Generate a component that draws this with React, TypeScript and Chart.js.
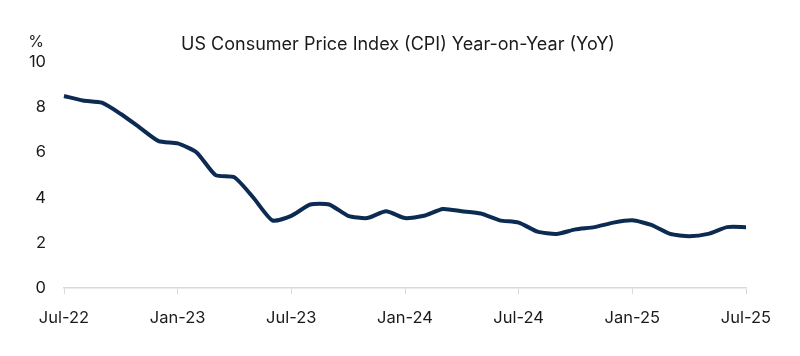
import React, { useEffect, useRef } from "react";
import { Chart, registerables } from "chart.js";

Chart.register(...registerables);

const months = [
  "Jul-22","Aug-22","Sep-22","Oct-22","Nov-22","Dec-22",
  "Jan-23","Feb-23","Mar-23","Apr-23","May-23","Jun-23",
  "Jul-23","Aug-23","Sep-23","Oct-23","Nov-23","Dec-23",
  "Jan-24","Feb-24","Mar-24","Apr-24","May-24","Jun-24",
  "Jul-24","Aug-24","Sep-24","Oct-24","Nov-24","Dec-24",
  "Jan-25","Feb-25","Mar-25","Apr-25","May-25","Jun-25","Jul-25",
];

const cpiYoY = [
  8.5, 8.3, 8.2, 7.7, 7.1, 6.5,
  6.4, 6.0, 5.0, 4.9, 4.0, 3.0,
  3.2, 3.7, 3.7, 3.2, 3.1, 3.4,
  3.1, 3.2, 3.5, 3.4, 3.3, 3.0,
  2.9, 2.5, 2.4, 2.6, 2.7, 2.9,
  3.0, 2.8, 2.4, 2.3, 2.4, 2.7, 2.7,
];

const titleText = "US Consumer Price Index (CPI) Year-on-Year (YoY)";
const unitLabel = "%";
const FONT = "Inter, 'Liberation Sans', sans-serif";

export default function App() {
  const ref = useRef<HTMLCanvasElement>(null);

  useEffect(() => {
    document.body.style.margin = "0";
    const textPlugin = {
      id: "textPlugin",
      afterDraw(chart: any) {
        const ctx = chart.ctx;
        ctx.save();
        ctx.fillStyle = "#1a1a1a";
        ctx.textBaseline = "middle";
        ctx.textAlign = "center";
        ctx.font = `16px ${FONT}`;
        ctx.fillText(unitLabel, 36, 42);
        ctx.font = `18px ${FONT}`;
        ctx.fillText(titleText, 398, 45);
        ctx.restore();
      },
    };
    const chart = new Chart(ref.current!, {
      type: "line",
      data: {
        labels: months,
        datasets: [
          {
            data: cpiYoY,
            borderColor: "#0c2b52",
            borderWidth: 4,
            pointRadius: 0,
            tension: 0.2,
            fill: false,
          },
        ],
      },
      options: {
        animation: false,
        responsive: false,
        layout: { padding: { left: 0, right: 54, top: 62, bottom: 14 } },
        plugins: {
          legend: { display: false },
          tooltip: { enabled: false },
          title: { display: false },
        },
        scales: {
          x: {
            offset: false,
            grid: {
              drawOnChartArea: false,
              drawTicks: true,
              tickLength: 6,
              color: "#d9d9d9",
            },
            border: { display: true, color: "#d9d9d9", width: 1.5 },
            ticks: {
              autoSkip: false,
              maxRotation: 0,
              padding: 14,
              color: "#1a1a1a",
              font: { family: FONT, size: 16.5 },
              callback: (_v: any, i: number) => (i % 6 === 0 ? months[i] : null),
            },
          },
          y: {
            min: 0,
            max: 10,
            afterFit: (s: any) => {
              s.width = 64;
            },
            grid: { display: false, drawTicks: false },
            border: { display: false },
            ticks: {
              stepSize: 2,
              padding: 18,
              color: "#1a1a1a",
              font: { family: FONT, size: 16.5 },
            },
          },
        },
      },
      plugins: [textPlugin],
    });
    return () => chart.destroy();
  }, []);

  return <canvas ref={ref} width={800} height={356} style={{ display: "block" }} />;
}
